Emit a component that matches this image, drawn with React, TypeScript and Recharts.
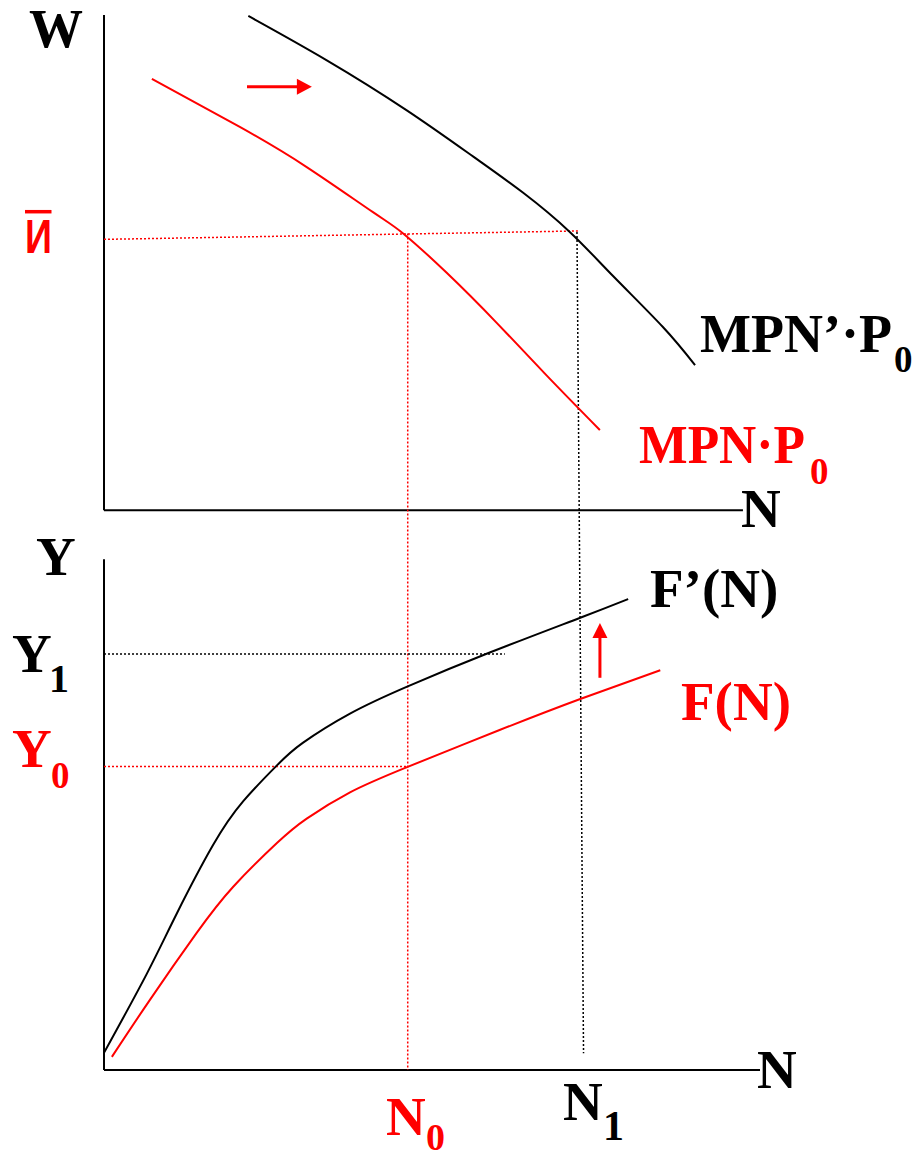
import React from 'react';
import { ComposedChart, Line, XAxis, YAxis, ReferenceLine, ReferenceDot } from 'recharts';

// ---- data (N in arbitrary labour units, W and Y in arbitrary units) ----
const nMPN = [7.3, 20.7, 30.9, 41.0, 45.6, 52.2, 59.9, 67.5, 75.6];
const wMPN = [87.1, 77.4, 69.3, 60.2, 55.9, 48.0, 37.8, 27.2, 16.2];
const nMPN2 = [22.0, 33.9, 46.1, 56.3, 63.9, 71.0, 77.6, 85.2, 90.1];
const wMPN2 = [99.8, 90.9, 80.8, 71.4, 64.1, 56.2, 47.3, 37.0, 29.3];
const nF = [1.2, 7.0, 14.1, 19.7, 26.4, 30.9, 37.5, 46.2, 60.4, 72.6, 84.8];
const yF = [2.6, 13.9, 27.1, 36.3, 45.0, 49.8, 55.0, 60.0, 67.4, 73.5, 79.2];
const nF2 = [0, 6.5, 11.1, 16.6, 21.2, 26.4, 30.3, 37.5, 46.3, 58.8, 72.6, 79.9];
const yF2 = [3.4, 19.0, 31.0, 44.5, 53.2, 60.4, 64.8, 70.6, 76.0, 82.7, 89.6, 93.3];

const N0 = 46.3;
const N1top = 72.1;
const N1bottom = 73.1;
const wBarStart = 54.7;
const wBarEnd = 56.4;
const wBarEndN = 72.3;
const wAtN0 = 55.9;
const wAtN1 = 56.2;
const Y0 = 60.1;
const Y1 = 82.4;
const Y1lineEnd = 61.1;
const topAxisEnd = 97.4;
const bottomAxisEnd = 100;
const bottomYAxisTop = 101.2;
const wDomain = [-113, 100];
const yDomain = [0, 209];
const nDomain = [0, 100];

const mpn = nMPN.map((n, i) => ({ n, w: wMPN[i] }));
const mpn2 = nMPN2.map((n, i) => ({ n, w: wMPN2[i] }));
const fN = nF.map((n, i) => ({ n, y: yF[i] }));
const fN2 = nF2.map((n, i) => ({ n, y: yF2[i] }));

const RED = '#ff0000';
const BLACK = '#000000';

const RightHead = (p: any) => (
  <polygon points={`${p.cx},${p.cy - 8} ${p.cx + 15},${p.cy} ${p.cx},${p.cy + 8}`} fill={RED} />
);
const UpHead = (p: any) => (
  <polygon points={`${p.cx - 7.5},${p.cy} ${p.cx},${p.cy - 15} ${p.cx + 7.5},${p.cy}`} fill={RED} />
);

const font = "'Liberation Serif', 'Times New Roman', serif";

export default function App() {
  return (
    <div style={{ position: 'absolute', left: 0, top: 0, width: 916, height: 1157, background: '#fff' }}>
      <ComposedChart
        width={916}
        height={1157}
        margin={{ top: 15, right: 156, bottom: 87, left: 104 }}
      >
        <XAxis type="number" dataKey="n" domain={nDomain} allowDataOverflow hide />
        <YAxis yAxisId="w" type="number" domain={wDomain} allowDataOverflow hide />
        <YAxis yAxisId="y" type="number" domain={yDomain} allowDataOverflow hide />

        {/* panel axes */}
        <ReferenceLine yAxisId="w" ifOverflow="visible" segment={[{ x: 0, y: 100 }, { x: 0, y: 0 }]} stroke={BLACK} strokeWidth={2} />
        <ReferenceLine yAxisId="w" ifOverflow="visible" segment={[{ x: 0, y: 0 }, { x: topAxisEnd, y: 0 }]} stroke={BLACK} strokeWidth={2} />
        <ReferenceLine yAxisId="y" ifOverflow="visible" segment={[{ x: 0, y: 0 }, { x: 0, y: bottomYAxisTop }]} stroke={BLACK} strokeWidth={2} />
        <ReferenceLine yAxisId="y" ifOverflow="visible" segment={[{ x: 0, y: 0 }, { x: bottomAxisEnd, y: 0 }]} stroke={BLACK} strokeWidth={2} />

        {/* dotted guides */}
        <ReferenceLine yAxisId="w" ifOverflow="visible" segment={[{ x: 0, y: wBarStart }, { x: wBarEndN, y: wBarEnd }]} stroke={RED} strokeWidth={1.5} strokeDasharray="2 2" />
        <ReferenceLine yAxisId="w" ifOverflow="visible" segment={[{ x: N0, y: wAtN0 }, { x: N0, y: wDomain[0] }]} stroke={RED} strokeWidth={1.5} strokeDasharray="2 2" />
        <ReferenceLine yAxisId="w" ifOverflow="visible" segment={[{ x: N1top, y: wAtN1 }, { x: N1bottom, y: -109.6 }]} stroke={BLACK} strokeWidth={1.5} strokeDasharray="2 2" />
        <ReferenceLine yAxisId="y" ifOverflow="visible" segment={[{ x: 0, y: Y1 }, { x: Y1lineEnd, y: Y1 }]} stroke={BLACK} strokeWidth={1.5} strokeDasharray="2 2" />
        <ReferenceLine yAxisId="y" ifOverflow="visible" segment={[{ x: 0, y: Y0 }, { x: N0, y: Y0 }]} stroke={RED} strokeWidth={1.5} strokeDasharray="2 2" />

        {/* curves */}
        <Line yAxisId="w" data={mpn} dataKey="w" type="natural" stroke={RED} strokeWidth={2} dot={false} isAnimationActive={false} />
        <Line yAxisId="w" data={mpn2} dataKey="w" type="natural" stroke={BLACK} strokeWidth={2} dot={false} isAnimationActive={false} />
        <Line yAxisId="y" data={fN} dataKey="y" type="natural" stroke={RED} strokeWidth={2} dot={false} isAnimationActive={false} />
        <Line yAxisId="y" data={fN2} dataKey="y" type="natural" stroke={BLACK} strokeWidth={2} dot={false} isAnimationActive={false} />

        {/* shift arrows */}
        <ReferenceLine yAxisId="w" ifOverflow="visible" segment={[{ x: 21.8, y: 85.5 }, { x: 29.8, y: 85.5 }]} stroke={RED} strokeWidth={3} />
        <ReferenceDot yAxisId="w" ifOverflow="visible" x={29.4} y={85.5} shape={RightHead} />
        <ReferenceLine yAxisId="y" ifOverflow="visible" segment={[{ x: 75.6, y: 77.7 }, { x: 75.6, y: 85.9 }]} stroke={RED} strokeWidth={3} />
        <ReferenceDot yAxisId="y" ifOverflow="visible" x={75.6} y={85.6} shape={UpHead} />
      </ComposedChart>

      <svg
        width={916}
        height={1157}
        style={{ position: 'absolute', left: 0, top: 0, pointerEvents: 'none' }}
        fontFamily={font}
        fontWeight="bold"
      >
        <text x={29} y={47} fontSize={54} fill={BLACK}>W</text>
        <line x1={25} y1={211.7} x2={51.5} y2={211.7} stroke={RED} strokeWidth={3.5} />
        <text x={25} y={253} fontSize={48} fill={RED} fontFamily="'Liberation Sans', Arial, sans-serif" textLength={27} lengthAdjust="spacingAndGlyphs">И</text>

        <text x={700} y={352} fontSize={55} fill={BLACK} textLength={192} lengthAdjust="spacingAndGlyphs">MPN’·P</text>
        <text x={894} y={372} fontSize={37} fill={BLACK}>0</text>
        <text x={639} y={463} fontSize={55} fill={RED} textLength={166} lengthAdjust="spacingAndGlyphs">MPN·P</text>
        <text x={810} y={484} fontSize={37} fill={RED}>0</text>
        <text x={741} y={527} fontSize={55} fill={BLACK}>N</text>

        <text x={36} y={575} fontSize={55} fill={BLACK}>Y</text>
        <text x={12} y={672} fontSize={55} fill={BLACK}>Y</text>
        <text x={49} y={692} fontSize={40} fill={BLACK}>1</text>
        <text x={12} y={767} fontSize={55} fill={RED}>Y</text>
        <text x={51} y={788} fontSize={37} fill={RED}>0</text>

        <text x={650} y={607} fontSize={55} fill={BLACK}>F’(N)</text>
        <text x={681} y={720} fontSize={55} fill={RED}>F(N)</text>
        <text x={757} y={1088} fontSize={55} fill={BLACK}>N</text>

        <text x={386} y={1135} fontSize={55} fill={RED}>N</text>
        <text x={426} y={1150} fontSize={38} fill={RED}>0</text>
        <text x={563} y={1120} fontSize={55} fill={BLACK}>N</text>
        <text x={603} y={1140} fontSize={42} fill={BLACK}>1</text>
      </svg>
    </div>
  );
}
